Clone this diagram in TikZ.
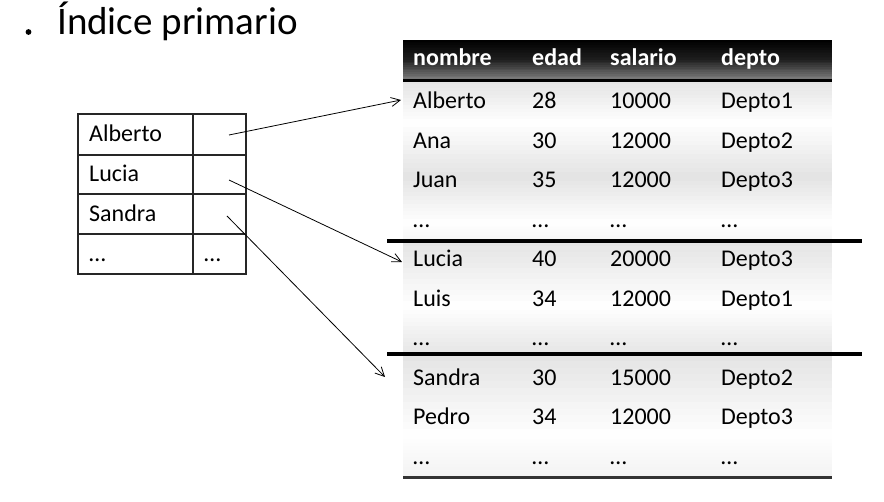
\documentclass[tikz,border=0pt]{standalone}
\usepackage{fontspec}
\setmainfont{Carlito}
\usetikzlibrary{arrows.meta}
% vertical gradient band: y from #1 to #2, black percentage from #3 to #4
\newcommand\gradband[4]{%
  \foreach \k in {0,...,11}{%
    \pgfmathsetmacro\gya{#1+(#2-#1)*\k/12}%
    \pgfmathsetmacro\gyb{#1+(#2-#1)*(\k+1)/12+0.4}%
    \pgfmathsetmacro\gpp{#3+(#4-#3)*(\k+0.5)/12}%
    \fill[black!\gpp] (403,\gya) rectangle (832,\gyb);
  }}
\begin{document}
\begin{tikzpicture}[x=1pt,y=-1pt,
  txt/.style={anchor=base west,inner sep=0pt,font=\fontsize{24}{28}\selectfont},
  hd/.style={txt,text=white,font=\fontsize{24}{28}\selectfont\bfseries},
  ttl/.style={anchor=base west,inner sep=0pt,font=\fontsize{39}{44}\selectfont},
  grid/.style={line width=1.1pt,black!85},
  ptr/.style={line width=0.8pt,-{Straight Barb[length=9pt,width=9pt]}},
  rule/.style={line width=4pt,black},
  rulethin/.style={line width=3pt,black}]
\useasboundingbox (0,0) rectangle (884,502);
% title
\fill (28.5,32) circle (2.9pt);
\node[ttl] (title) at (57,35) {Índice primario};
% big table background
\gradband{40}{60}{100}{88}
\gradband{60}{81}{88}{48}
\gradband{81}{123}{11}{0}
\gradband{123}{177}{0}{11}
\gradband{177}{223}{11}{0}
\gradband{223}{241}{0}{4}
\gradband{241}{306}{11}{0}
\gradband{306}{354}{0}{10}
\gradband{354}{436}{11}{0}
\gradband{436}{478}{0}{5}
\draw[rulethin] (403,81) -- (832,81);
\draw[rule] (387,241) -- (862,241);
\draw[rule] (387,354) -- (862,354);
\draw[line width=3pt,black!80] (403,478) -- (832,478);
% header
\node[hd] (h1) at (413,66) {nombre};
\node[hd] (h2) at (532,66) {edad};
\node[hd] (h3) at (610,66) {salario};
\node[hd] (h4) at (721,66) {depto};
% rows
\foreach \n/\y/\a/\b/\c/\d in {
  r1/109/Alberto/28/10000/Depto1,
  r2/148.5/Ana/30/12000/Depto2,
  r3/188/Juan/35/12000/Depto3,
  r4/227.5/…/…/…/…,
  r5/267/Lucia/40/20000/Depto3,
  r6/306.5/Luis/34/12000/Depto1,
  r7/346/…/…/…/…,
  r8/385.5/Sandra/30/15000/Depto2,
  r9/425/Pedro/34/12000/Depto3,
  r10/464.5/…/…/…/…}{
  \node[txt] (\n a) at (413,\y) {\a};
  \node[txt] (\n b) at (532,\y) {\b};
  \node[txt] (\n c) at (610,\y) {\c};
  \node[txt] (\n d) at (721,\y) {\d};
}
% index table
\draw[grid] (78,114) rectangle (246,274);
\draw[grid] (78,155) -- (246,155);
\draw[grid] (78,194) -- (246,194);
\draw[grid] (78,234) -- (246,234);
\draw[grid] (193,114) -- (193,274);
\node[txt] (i1) at (89,142) {Alberto};
\node[txt] (i2) at (89,182) {Lucia};
\node[txt] (i3) at (89,222) {Sandra};
\node[txt] (i4) at (89,262) {…};
\node[txt] (i5) at (204,262) {…};
% pointers
\coordinate (pA) at (229,135);
\coordinate (pL) at (229,180);
\coordinate (pS) at (227,216);
\coordinate (tA) at (401,100);
\coordinate (tL) at (402,262);
\coordinate (tS) at (385,377);
\draw[ptr] (pA) -- (tA);
\draw[ptr] (pL) -- (tL);
\draw[ptr] (pS) -- (tS);
\end{tikzpicture}
\end{document}
